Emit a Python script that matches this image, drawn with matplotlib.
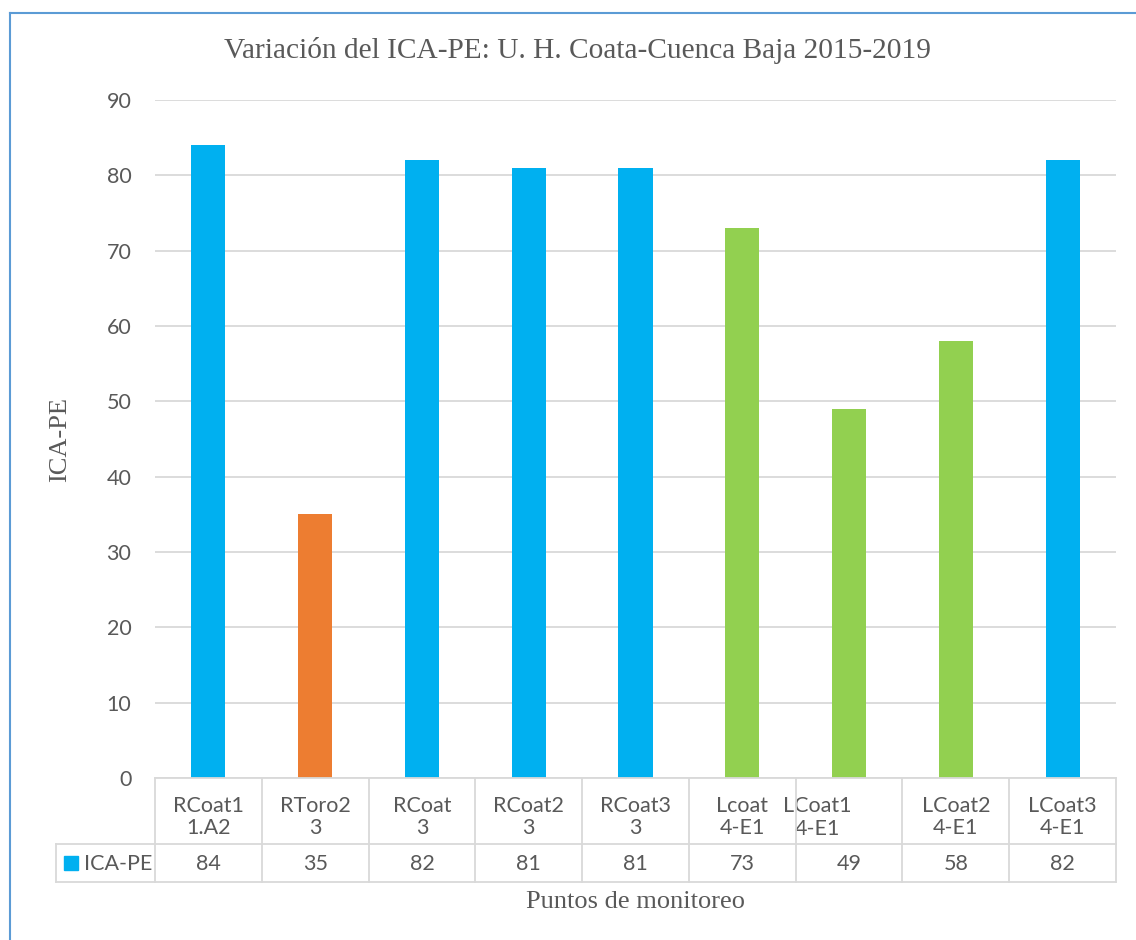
import matplotlib
matplotlib.use('Agg')
import matplotlib.pyplot as plt
from matplotlib.lines import Line2D
from matplotlib.patches import Rectangle

# data
cat_line1 = ["RCoat1", "RToro2", "RCoat", "RCoat2", "RCoat3", "Lcoat", "LCoat1", "LCoat2", "LCoat3"]
cat_line2 = ["1.A2", "3", "3", "3", "3", "4-E1", "4-E1", "4-E1", "4-E1"]
ica_pe = [84, 35, 82, 81, 81, 73, 49, 58, 82]
bar_colors = ["#00B0F0", "#ED7D31", "#00B0F0", "#00B0F0", "#00B0F0",
              "#92D050", "#92D050", "#92D050", "#00B0F0"]
y_ticks = [0, 10, 20, 30, 40, 50, 60, 70, 80, 90]

TXT = "#595959"
GRID = "#D9D9D9"
SERIF = "Liberation Serif"
SANS = "Lato"
FS = 15.5

W, H = 1136, 940
fig = plt.figure(figsize=(W / 100, H / 100), dpi=100)

# plot area in pixels: x 155..1116, y 100..778
px_l, px_r, px_t, px_b = 155, 1116, 100, 778
ax = fig.add_axes([px_l / W, (H - px_b) / H, (px_r - px_l) / W, (px_b - px_t) / H])

x = list(range(len(ica_pe)))
ax.bar(x, ica_pe, width=0.32, color=bar_colors, zorder=3)
ax.set_xlim(-0.5, len(ica_pe) - 0.5)
ax.set_ylim(0, 90)
ax.set_yticks(y_ticks)
ax.set_yticklabels([str(v) for v in y_ticks], fontfamily=SANS, fontsize=FS, color=TXT)
ax.set_xticks([])
ax.tick_params(axis='y', length=0, pad=17)
for s in ax.spines.values():
    s.set_visible(False)
ax.grid(axis='y', color=GRID, linewidth=1.3, zorder=0)

# data table under the axes
tr = ax.get_xaxis_transform()
ph = px_b - px_t
row_mid = -(844 - px_b) / ph
row_bot = -(882 - px_b) / ph
step = (px_r - px_l) / len(ica_pe)
leg_left = -0.5 - (px_l - 56) / step
n = len(ica_pe)

line_kw = dict(color=GRID, linewidth=1.3, transform=tr, clip_on=False, zorder=4)
ax.plot([-0.5, n - 0.5], [0, 0], **line_kw)
ax.plot([leg_left, n - 0.5], [row_mid, row_mid], **line_kw)
ax.plot([leg_left, n - 0.5], [row_bot, row_bot], **line_kw)
ax.plot([leg_left, leg_left], [row_mid, row_bot], **line_kw)
for i in range(n + 1):
    ax.plot([i - 0.5, i - 0.5], [0, row_bot], **line_kw)

hdr_mid = -(817 - px_b) / ph
val_mid = -(864 - px_b) / ph
for i in range(n):
    if cat_line1[i] == "LCoat1":
        # this cell is misaligned in the original chart
        ax.text(i - 0.5 - 13 / step, -(806 - px_b) / ph, cat_line1[i], transform=tr,
                ha='left', va='center', fontfamily=SANS, fontsize=FS, color=TXT)
        ax.text(i - 0.5 - 1 / step, -(829 - px_b) / ph, cat_line2[i], transform=tr,
                ha='left', va='center', fontfamily=SANS, fontsize=FS, color=TXT)
    else:
        ax.text(i, hdr_mid, cat_line1[i] + "\n" + cat_line2[i], transform=tr,
                ha='center', va='center', fontfamily=SANS, fontsize=FS, color=TXT,
                linespacing=1.12)
    ax.text(i, val_mid, str(ica_pe[i]), transform=tr, ha='center', va='center',
            fontfamily=SANS, fontsize=FS, color=TXT)

# legend key in table
ax.add_patch(Rectangle((-0.5 - (px_l - 64) / step, -(870 - px_b) / ph), 14 / step, 14 / ph,
                       transform=tr, color="#00B0F0", clip_on=False))
ax.text(-0.5 - (px_l - 84) / step, val_mid, "ICA-PE", transform=tr, ha='left', va='center',
        fontfamily=SANS, fontsize=FS, color=TXT)

# titles
fig.text(577 / W, 1 - 50 / H, "Variación del ICA-PE: U. H. Coata-Cuenca Baja 2015-2019",
         ha='center', va='center', fontfamily=SERIF, fontsize=21.2, color=TXT)
fig.text(60 / W, 1 - 440 / H, "ICA-PE", rotation=90, ha='center', va='center',
         fontfamily=SERIF, fontsize=19, color=TXT)
fig.text(635 / W, 1 - 902 / H, "Puntos de monitoreo", ha='center', va='center',
         fontfamily=SERIF, fontsize=19, color=TXT)

# chart frame (cropped on right and bottom)
fig.add_artist(Line2D([10 / W, 10 / W], [0, 1 - 13 / H], color="#5B9BD5", linewidth=1.5))
fig.add_artist(Line2D([10 / W, 1], [1 - 13 / H, 1 - 13 / H], color="#5B9BD5", linewidth=1.5))

fig.savefig("out.png", dpi=100)
